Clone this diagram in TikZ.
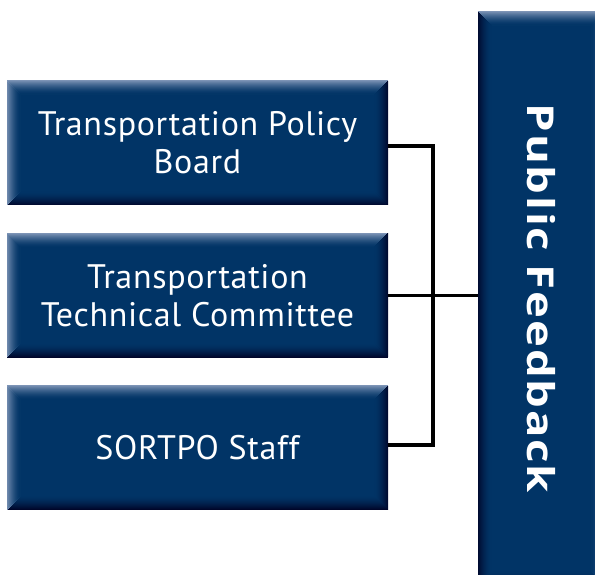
\documentclass[tikz,border=0pt]{standalone}
\usepackage{fontspec}
\setmainfont{PT Sans}
\newfontfamily\headfont[LetterSpace=4]{Open Sans}
\usetikzlibrary{positioning}

\definecolor{navy}{RGB}{1,52,102}
\definecolor{navylight}{RGB}{125,148,182}
\definecolor{navydark}{RGB}{0,6,42}

% bevelled edges, drawn as thin mitred frames: #1 top, #2 left, #3 bottom, #4 right
\newcommand{\bevelstrips}[4]{%
  \foreach \i in {0,...,13}{
    \pgfmathsetmacro{\pct}{100*(1-\i/14)^1.6}
    \draw[#1!\pct!navy, line width=1.2pt] ([shift={(\i pt,-\i pt)}]path picture bounding box.north west) -- ([shift={(-\i pt,-\i pt)}]path picture bounding box.north east);
    \draw[#3!\pct!navy, line width=1.2pt] ([shift={(\i pt,\i pt)}]path picture bounding box.south west) -- ([shift={(-\i pt,\i pt)}]path picture bounding box.south east);
    \draw[#2!\pct!navy, line width=1.2pt] ([shift={(\i pt,-\i pt)}]path picture bounding box.north west) -- ([shift={(\i pt,\i pt)}]path picture bounding box.south west);
    \draw[#4!\pct!navy, line width=1.2pt] ([shift={(-\i pt,-\i pt)}]path picture bounding box.north east) -- ([shift={(-\i pt,\i pt)}]path picture bounding box.south east);
  }
}

\tikzset{
  panel/.style={fill=navy, inner sep=0pt, text=white, align=center,
    minimum width=381pt, minimum height=124pt,
    font=\fontsize{34}{38}\selectfont\addfontfeature{LetterSpace=2},
    path picture={\bevelstrips{navylight}{navylight}{navydark}{navydark}}},
  feedbackpanel/.style={fill=navy, inner sep=0pt, text=white,
    minimum width=127pt, minimum height=573pt,
    font=\headfont\fontsize{37}{40}\selectfont\bfseries,
    path picture={\bevelstrips{navylight}{navydark}{navydark}{navylight}}},
  link/.style={draw=black, line width=3.5pt}
}

\begin{document}
\begin{tikzpicture}[x=1pt, y=1pt, node distance=28pt]
    \useasboundingbox (0,0) rectangle (595,574);
    \clip (0,0) rectangle (595,574);

    % committees on the left
    \node[panel] (policy) at (197.5,431) {Transportation Policy\\Board};
    \node[panel, below=of policy] (committee) {Transportation\\Technical Committee};
    \node[panel, below=of committee] (staff) {SORTPO Staff};

    % feedback bar, running off the page
    \node[feedbackpanel] (feedback) at (541.5,275.5) {\rotatebox{-90}{\scalebox{1.23}[1]{Public Feedback}}};

    % bracket joining the committees
    \coordinate (bus) at (433,279);
    \draw[link] ([yshift=-3pt]policy.east) -| (bus) |- ([yshift=3pt]staff.east);
    \draw[link] (committee.east) -- (committee.east -| feedback.west);
\end{tikzpicture}
\end{document}
